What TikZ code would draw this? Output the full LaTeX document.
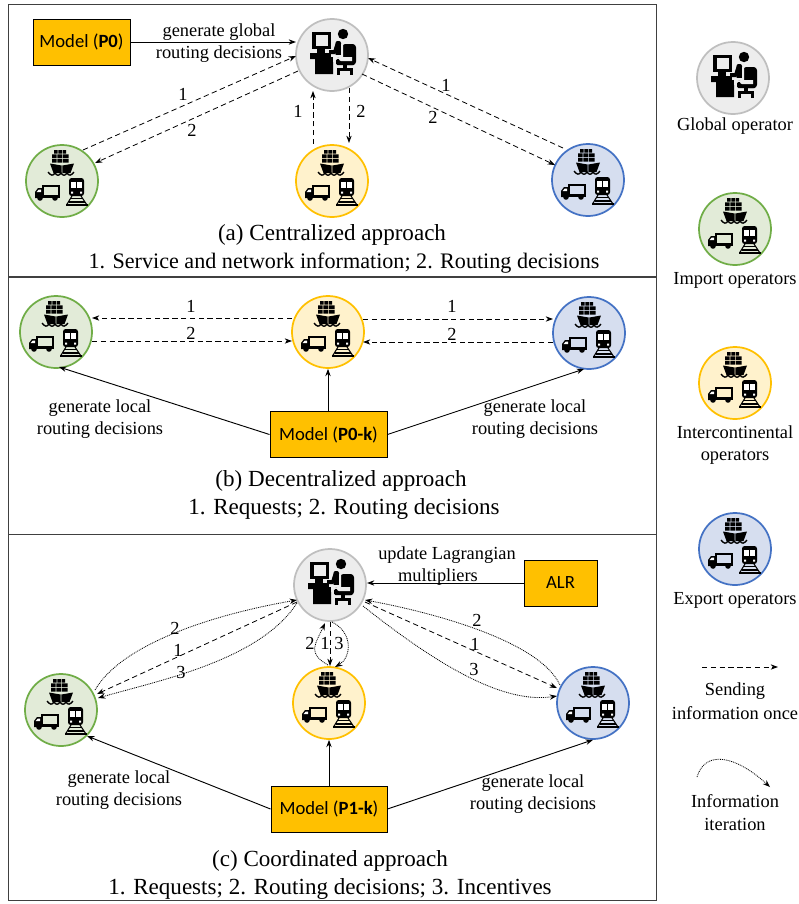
\documentclass[tikz,border=0pt]{standalone}
\usepackage{fontspec}
\setmainfont{Liberation Serif}
\newfontfamily\carlfont{Carlito}
\usetikzlibrary{calc,arrows.meta}
\definecolor{gfill}{HTML}{EDEDED}\definecolor{gline}{HTML}{BFBFBF}
\definecolor{imfill}{HTML}{E2EBD8}\definecolor{imline}{HTML}{70AD47}
\definecolor{icfill}{HTML}{FFF2CC}\definecolor{icline}{HTML}{FFC000}
\definecolor{exfill}{HTML}{D6DEEF}\definecolor{exline}{HTML}{4472C4}
\tikzset{
  x=0.75pt,y=-0.75pt,
  hub/.style={circle,minimum size=54pt,inner sep=0pt,line width=1.3pt},
  globalop/.style={hub,draw=gline,fill=gfill},
  importop/.style={hub,draw=imline,fill=imfill},
  interop/.style={hub,draw=icline,fill=icfill},
  exportop/.style={hub,draw=exline,fill=exfill},
  modelbox/.style={draw=black,fill=icline,line width=.7pt,inner sep=0pt,font=\carlfont\fontsize{14}{18}\selectfont},
  numlab/.style={inner sep=0pt,font=\fontsize{13.8}{16}\selectfont},
  lab/.style={numlab,yshift=-1.5pt},
  captext/.style={inner sep=0pt,yshift=-1.5pt,font=\fontsize{17.3}{20}\selectfont},
  tip/.style={-{Stealth[length=5.5pt,width=4pt]}},
  once/.style={tip,line width=.6pt,dash pattern=on 4pt off 2.6pt},
  iter/.style={tip,line width=.6pt,dash pattern=on .7pt off .7pt},
  solidarrow/.style={tip,line width=.7pt},
  modes/.pic={
    % ship
    \fill (-8,-31) rectangle (-4.5,-27.5) (-3.7,-31) rectangle (-.2,-27.5) (.6,-31) rectangle (4.1,-27.5);
    \fill (-10,-26.7) rectangle (-5.5,-23) (-4.7,-26.7) rectangle (-.2,-23) (.6,-26.7) rectangle (6.5,-23);
    \fill (-10,-22.2) rectangle (-5.5,-18.5) (-4.7,-22.2) rectangle (-.2,-18.5) (.6,-22.2) rectangle (6.5,-18.5);
    \fill (-12,-17.5) -- (-.4,-15.5) -- (-.4,-8) -- (-8.5,-8) -- cycle;
    \fill (12,-17.5) -- (.4,-15.5) -- (.4,-8) -- (8.5,-8) -- cycle;
    \draw[line width=1pt] (-14,-9) .. controls (-11,-5) and (-9,-5) .. (-7,-8) .. controls (-5,-5) and (-3,-5) .. (-1,-8) .. controls (1,-5) and (3,-5) .. (5,-8) .. controls (7,-5) and (9,-5) .. (12,-9);
    % truck
    \draw[line width=1.4pt] (-19,5) rectangle (-2.7,15);
    \fill (-27,17) -- (-27,11) -- (-24,7) -- (-19,7) -- (-19,17) -- cycle;
    \fill[white] (-25.3,11) -- (-23.3,8.5) -- (-21,8.5) -- (-21,11) -- cycle;
    \fill (-27,15) rectangle (-2,17);
    \fill (-22,17) circle (2.8) (-7,17) circle (2.8);
    % train
    \fill[rounded corners=2pt] (7,-3) rectangle (22,15);
    \fill[white] (9,1) rectangle (20,7);
    \fill (14,1) rectangle (15,7);
    \fill[white] (9,10.5) rectangle (11,12.5) (18,10.5) rectangle (20,12.5);
    \draw[line width=.8pt] (10,15) -- (4.5,24) (19,15) -- (25,24);
    \draw[line width=.9pt] (8,17.5) -- (21,17.5) (7,21) -- (23,21) (4,24) -- (26,24);
  },
  oper/.pic={
    % monitor
    \fill (-20,-23) rectangle (-1,-6);
    \fill[gfill] (-16.5,-20) rectangle (-4,-9);
    \fill (-15,-6) rectangle (-7,-2);
    % desk
    \fill (-22,-2) -- (1,-2) -- (1,19) -- (-17,19) -- (-17,4) -- (-22,4) -- cycle;
    % head
    \fill (11,-21) circle (5.2);
    % chair back and seat
    \fill[rounded corners=2.5pt] (10,-11) rectangle (24,10);
    \fill[rounded corners=1pt] (4,4) rectangle (23,10);
    % person: torso and arm, set off by a pale outline
    \draw[gfill,line width=3pt,line join=round] (-1,-1) -- (5,-1) -- (7,-11) -- (9,-11) -- (9,4) -- (20,4);
    \draw[line width=3pt,line join=round] (-3,-3) -- (3,-3) -- (5.5,-11);
    \fill[rounded corners=1.5pt] (3.5,-14) rectangle (9,2);
    \draw[gfill,line width=.9pt] (2,1) -- (9.5,1) -- (9.5,-11);
    \draw[gfill,line width=.9pt] (-1,1) -- (2,1) -- (2,7);
    % chair base
    \fill (11,10) rectangle (15,14);
    \draw[line width=1.6pt] (6.5,19.5) -- (6.5,14.5) -- (19.5,14.5) -- (19.5,19.5);
  },
}
\begin{document}
\begin{tikzpicture}[x=0.75pt,y=-0.75pt]
\useasboundingbox (0,0) rectangle (799,904);
\fill[white] (0,0) rectangle (799,904);
% frames
\node[draw=black!75,line width=.7pt,minimum width=486pt,minimum height=204.5pt,inner sep=0pt] (framea) at (332,140.5) {};
\node[draw=black!75,line width=.7pt,minimum width=486pt,minimum height=192.75pt,inner sep=0pt] (frameb) at (332,405.5) {};
\node[draw=black!75,line width=.7pt,minimum width=486pt,minimum height=274.5pt,inner sep=0pt] (framec) at (332,717) {};

% ---- (a)
\node[globalop] (ga) at (332,55) {}; \pic at (ga) {oper};
\node[importop] (ia) at (62,181) {}; \pic at (ia) {modes};
\node[interop] (ya) at (332,181) {}; \pic at (ya) {modes};
\node[exportop] (ea) at (588,180) {}; \pic at (ea) {modes};
\node[modelbox,minimum width=72.75pt,minimum height=34.5pt] (pa) at (81.5,42) {Model (\textbf{P0})};
\draw[solidarrow] (pa.east) -- ($(ga)+(-36,-13)$);
\draw[once] ($(ia)+(21,-31)$) -- ($(ga)+(-36,1)$);
\draw[once] ($(ga)+(-34,16)$) -- ($(ia)+(33,-18)$);
\draw[once] ($(ya)+(-19,-37)$) -- ($(ga)+(-19,36)$);
\draw[once] ($(ga)+(17,33)$) -- ($(ya)+(17,-38)$);
\draw[once] ($(ea)+(-25,-32)$) -- ($(ga)+(36,3)$);
\draw[once] ($(ga)+(30,19)$) -- ($(ea)+(-33,-15)$);
\node[lab] (la1) at (219,30) {generate global};
\node[lab] (la2) at (219,52) {routing decisions};
\node[numlab] (na1) at (183,94) {1};
\node[numlab] (na2) at (192,130) {2};
\node[numlab] (na3) at (298,111) {1};
\node[numlab] (na4) at (361,111) {2};
\node[numlab] (na5) at (446,85) {1};
\node[numlab] (na6) at (433,117) {2};
\node[captext] (ca1) at (332,233) {(a) Centralized approach};
\node[captext,font=\fontsize{16.6}{20}\selectfont] (ca2) at (344,261) {1. Service and network information; 2. Routing decisions};

% ---- (b)
\node[importop] (ib) at (56,332) {}; \pic at (ib) {modes};
\node[interop] (yb) at (328,332) {}; \pic at (yb) {modes};
\node[exportop] (eb) at (589,333) {}; \pic at (eb) {modes};
\node[modelbox,minimum width=87.75pt,minimum height=34pt] (pb) at (328.5,434.5) {Model (\textbf{P0-k})};
\draw[once] ($(yb)+(-36,-14)$) -- ($(ib)+(36,-14)$);
\draw[once] ($(ib)+(36,9)$) -- ($(yb)+(-36,9)$);
\draw[once] ($(yb)+(35,-13)$) -- ($(eb)+(-36,-14)$);
\draw[once] ($(eb)+(-36,9)$) -- ($(yb)+(35,10)$);
\draw[solidarrow] (pb.west) -- ($(ib)+(3,35)$);
\draw[solidarrow] (pb.north -| yb) -- (yb.south);
\draw[solidarrow] (pb.east) -- ($(eb)+(-5,36)$);
\node[numlab] (nb1) at (191,306) {1};
\node[numlab] (nb2) at (191,333) {2};
\node[numlab] (nb3) at (452,306) {1};
\node[numlab] (nb4) at (452,334) {2};
\node[lab] (lb1) at (100,406) {generate local};
\node[lab] (lb2) at (100,428) {routing decisions};
\node[lab] (lb3) at (535,406) {generate local};
\node[lab] (lb4) at (535,428) {routing decisions};
\node[captext] (cb1) at (341,479) {(b) Decentralized approach};
\node[captext] (cb2) at (344,507) {1. Requests; 2. Routing decisions};

% ---- (c)
\node[globalop] (gc) at (330,585) {}; \pic at (gc) {oper};
\node[importop] (ic) at (61,710) {}; \pic at (ic) {modes};
\node[interop] (yc) at (329,703) {}; \pic at (yc) {modes};
\node[exportop] (ec) at (593,703) {}; \pic at (ec) {modes};
\node[modelbox,minimum width=54.75pt,minimum height=34.5pt] (alr) at (560.5,583) {ALR};
\node[modelbox,minimum width=87pt,minimum height=34.5pt] (pc) at (329,809) {Model (\textbf{P1-k})};
\draw[solidarrow] (alr.west) -- ($(gc)+(37,-2)$);
% left
\draw[iter] ($(ic)+(34,-20)$) .. controls ($(ic)+(60,-65)$) and ($(gc)+(-120,30)$) .. ($(gc)+(-33,15)$);
\draw[once] ($(gc)+(-33,17)$) -- ($(ic)+(36,-16)$);
\draw[iter] ($(gc)+(-33,18)$) .. controls ($(gc)+(-70,75)$) and ($(ic)+(100,-30)$) .. ($(ic)+(37,-12)$);
% middle
\draw[iter] ($(yc)+(-1,-38)$) .. controls ($(yc)+(-22,-50)$) and ($(gc)+(-15,60)$) .. ($(gc)+(-5,38)$);
\draw[once] ($(gc)+(0,37)$) -- ($(yc)+(1,-37)$);
\draw[iter] ($(gc)+(2,37)$) .. controls ($(gc)+(24,48)$) and ($(yc)+(22,-45)$) .. ($(yc)+(6,-36)$);
% right
\draw[iter] ($(ec)+(-33,-18)$) .. controls ($(ec)+(-55,-65)$) and ($(gc)+(90,25)$) .. ($(gc)+(35,15)$);
\draw[once] ($(gc)+(35,17)$) -- ($(ec)+(-36,-15)$);
\draw[iter] ($(gc)+(33,21)$) .. controls ($(gc)+(95,70)$) and ($(ec)+(-95,2)$) .. ($(ec)+(-36,-7)$);
\draw[solidarrow] (pc.west) -- ($(ic)+(26,26)$);
\draw[solidarrow] (pc.north -| yc) -- (yc.south);
\draw[solidarrow] (pc.east) -- (ec.south);
\node[lab] (lc1) at (447,553) {update Lagrangian};
\node[lab] (lc2) at (438,575) {multipliers};
\node[numlab] (nc1) at (175,628) {2};
\node[numlab] (nc2) at (178,650) {1};
\node[numlab] (nc3) at (181,672) {3};
\node[numlab] (nc4) at (310,643) {2};
\node[numlab] (nc5) at (325,643) {1};
\node[numlab] (nc6) at (339,643) {3};
\node[numlab] (nc7) at (477,620) {2};
\node[numlab] (nc8) at (475,644) {1};
\node[numlab] (nc9) at (474,669) {3};
\node[lab] (lc3) at (119,777) {generate local};
\node[lab] (lc4) at (119,799) {routing decisions};
\node[lab] (lc5) at (533,781) {generate local};
\node[lab] (lc6) at (533,803) {routing decisions};
\node[captext] (cc1) at (330,859) {(c) Coordinated approach};
\node[captext] (cc2) at (330,887) {1. Requests; 2. Routing decisions; 3. Incentives};

% ---- legend
\node[globalop] (gl) at (733,78) {}; \pic at (gl) {oper};
\node[importop] (il) at (735,229) {}; \pic at (il) {modes};
\node[interop] (yl) at (735,383) {}; \pic at (yl) {modes};
\node[exportop] (el) at (735,549) {}; \pic at (el) {modes};
\node[lab] (t1) at (735,124) {Global operator};
\node[lab] (t2) at (735,278) {Import operators};
\node[lab] (t3) at (735,430) {Intercontinental};
\node[lab] (t4) at (735,455) {operators};
\node[lab] (t5) at (735,598) {Export operators};
\coordinate (s1) at (702,667); \coordinate (s2) at (778,667);
\draw[once] (s1) -- (s2);
\node[lab] (t6) at (735,689) {Sending};
\node[lab] (t7) at (735,711) {information once};
\coordinate (i1) at (697,777); \coordinate (i2) at (770,787);
\draw[iter] (i1) .. controls (705,750) and (735,755) .. (i2);
\node[lab] (t8) at (735,799) {Information};
\node[lab] (t9) at (735,822) {iteration};
\end{tikzpicture}
\end{document}
